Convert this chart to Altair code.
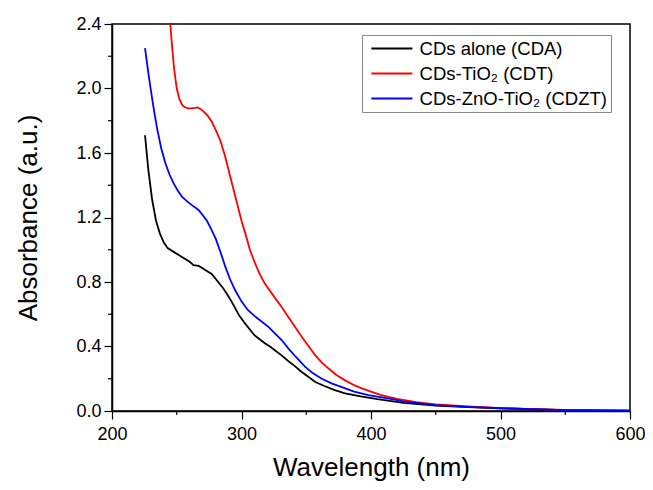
import altair as alt
import pandas as pd

# ---- data ----
series_names = ["CDs alone (CDA)", "CDs-TiO\u2082 (CDT)", "CDs-ZnO-TiO\u2082 (CDZT)"]
series_colors = ["#000000", "#ff0000", "#0000ff"]

cda_wl = [225.5, 228, 231, 234, 237, 240, 243, 247, 254, 260, 263, 267, 272, 277, 282, 286, 290, 294,
          298, 302, 306, 310, 314, 318, 322, 326, 331, 336, 341, 346, 351, 357, 364, 372, 380, 392,
          405, 413, 425, 450, 475, 500, 525, 550, 575, 600]
cda_abs = [1.71, 1.50, 1.31, 1.18, 1.10, 1.045, 1.01, 0.99, 0.955, 0.925, 0.905, 0.90, 0.875, 0.85, 0.80,
           0.76, 0.71, 0.655, 0.595, 0.55, 0.51, 0.47, 0.445, 0.42, 0.40, 0.375, 0.345, 0.31, 0.28,
           0.245, 0.215, 0.18, 0.155, 0.13, 0.11, 0.09, 0.073, 0.064, 0.05, 0.034, 0.024, 0.017,
           0.011, 0.006, 0.004, 0.002]

cdt_wl = [243.8, 245, 246.5, 248, 250, 252, 254, 256, 258, 261, 264, 266, 268, 271, 274, 277, 280,
          283.5, 287, 290, 293, 296.5, 300, 303, 306.5, 310.5, 314, 318, 322, 326, 331, 336, 341,
          346.5, 352, 357, 362, 367, 373, 380, 387, 393, 400, 408, 420, 435, 450, 475, 500, 525,
          550, 575, 600]
cdt_abs = [2.55, 2.40, 2.25, 2.12, 2.00, 1.935, 1.90, 1.885, 1.878, 1.877, 1.88, 1.883, 1.875, 1.855,
           1.83, 1.795, 1.745, 1.68, 1.59, 1.495, 1.40, 1.29, 1.18, 1.10, 1.00, 0.915, 0.85, 0.79,
           0.745, 0.70, 0.645, 0.585, 0.525, 0.46, 0.40, 0.345, 0.30, 0.265, 0.225, 0.19, 0.16,
           0.14, 0.12, 0.099, 0.075, 0.055, 0.041, 0.028, 0.018, 0.012, 0.007, 0.004, 0.002]

cdzt_wl = [225.5, 228, 230, 232.5, 235, 238, 241.3, 244.5, 247.7, 251, 254, 258, 262, 267, 270, 273.3,
           276.5, 280, 284, 287.5, 291, 295, 300, 305, 310, 315.5, 321, 326, 331, 336, 342, 349, 355,
           362, 370, 377, 387, 398, 413, 425, 450, 475, 500, 525, 550, 575, 600]
cdzt_abs = [2.25, 2.10, 1.99, 1.86, 1.745, 1.63, 1.535, 1.465, 1.41, 1.365, 1.33, 1.30, 1.275, 1.245,
            1.215, 1.18, 1.13, 1.07, 0.98, 0.895, 0.82, 0.75, 0.68, 0.625, 0.59, 0.555, 0.52, 0.48,
            0.44, 0.39, 0.335, 0.275, 0.235, 0.20, 0.17, 0.15, 0.12, 0.099, 0.079, 0.06, 0.037,
            0.025, 0.017, 0.011, 0.006, 0.004, 0.002]

x_ticks = [200, 300, 400, 500, 600]
x_minor = [250, 350, 450, 550]
y_ticks = [0.0, 0.4, 0.8, 1.2, 1.6, 2.0, 2.4]
y_minor = [0.2, 0.6, 1.0, 1.4, 1.8, 2.2]

rows = []
for name, wl, ab in zip(series_names, [cda_wl, cdt_wl, cdzt_wl], [cda_abs, cdt_abs, cdzt_abs]):
    for w, a in zip(wl, ab):
        rows.append({"series": name, "wl": w, "abs": a})
df = pd.DataFrame(rows)

W, H = 518, 387
FONT = "Liberation Sans"

xscale = alt.Scale(domain=[200, 600], nice=False, zero=False)
yscale = alt.Scale(domain=[0, 2.4], nice=False, zero=False)

lines = alt.Chart(df).mark_line(strokeWidth=1.8, clip=True).encode(
    x=alt.X("wl:Q", scale=xscale,
            axis=alt.Axis(title="Wavelength (nm)", values=x_ticks, format="d", grid=False,
                          labelFlush=False, labelOverlap=False,
                          titleFontSize=26, titleFontWeight="normal", titlePadding=11,
                          labelFontSize=18, labelPadding=6, tickSize=8)),
    y=alt.Y("abs:Q", scale=yscale,
            axis=alt.Axis(title="Absorbance (a.u.)", values=y_ticks, format=".1f", grid=False,
                          labelFlush=False, labelOverlap=False,
                          titleFontSize=26, titleFontWeight="normal", titlePadding=34,
                          labelFontSize=18, labelPadding=3, tickSize=8)),
    color=alt.Color("series:N", sort=series_names,
                    scale=alt.Scale(domain=series_names, range=series_colors),
                    legend=alt.Legend(title=None, orient="none", legendX=250, legendY=11,
                                      symbolType="M-0.5,0H4.5", symbolSize=269, symbolStrokeWidth=2,
                                      labelFontSize=18.5, labelFont=FONT, labelOffset=34.6,
                                      labelLimit=400, labelColor="black",
                                      rowPadding=6, padding=4, strokeColor="#888888",
                                      fillColor="white")),
    order=alt.Order("wl:Q"),
    detail="series:N",
)

xminor = alt.Chart(pd.DataFrame({"m": x_minor})).mark_rule(color="black", strokeWidth=1.2).encode(
    x=alt.X("m:Q", scale=xscale), y=alt.value(H), y2=alt.value(H + 4))
yminor = alt.Chart(pd.DataFrame({"m": y_minor})).mark_rule(color="black", strokeWidth=1.2).encode(
    y=alt.Y("m:Q", scale=yscale), x=alt.value(0), x2=alt.value(-4))

chart = alt.layer(lines, xminor, yminor).properties(
    width=W, height=H,
    background="white",
    autosize=alt.AutoSizeParams(type="none"),
    padding={"left": 104, "top": 16, "right": 15, "bottom": 74},
).configure_view(stroke="black", strokeWidth=1.5).configure_axis(
    domainColor="black", domainWidth=1.5, tickColor="black", tickWidth=1.2,
    labelColor="black", titleColor="black", labelFont=FONT, titleFont=FONT, grid=False,
)

chart.save("out.html", embed_options={"renderer": "svg", "actions": False})
